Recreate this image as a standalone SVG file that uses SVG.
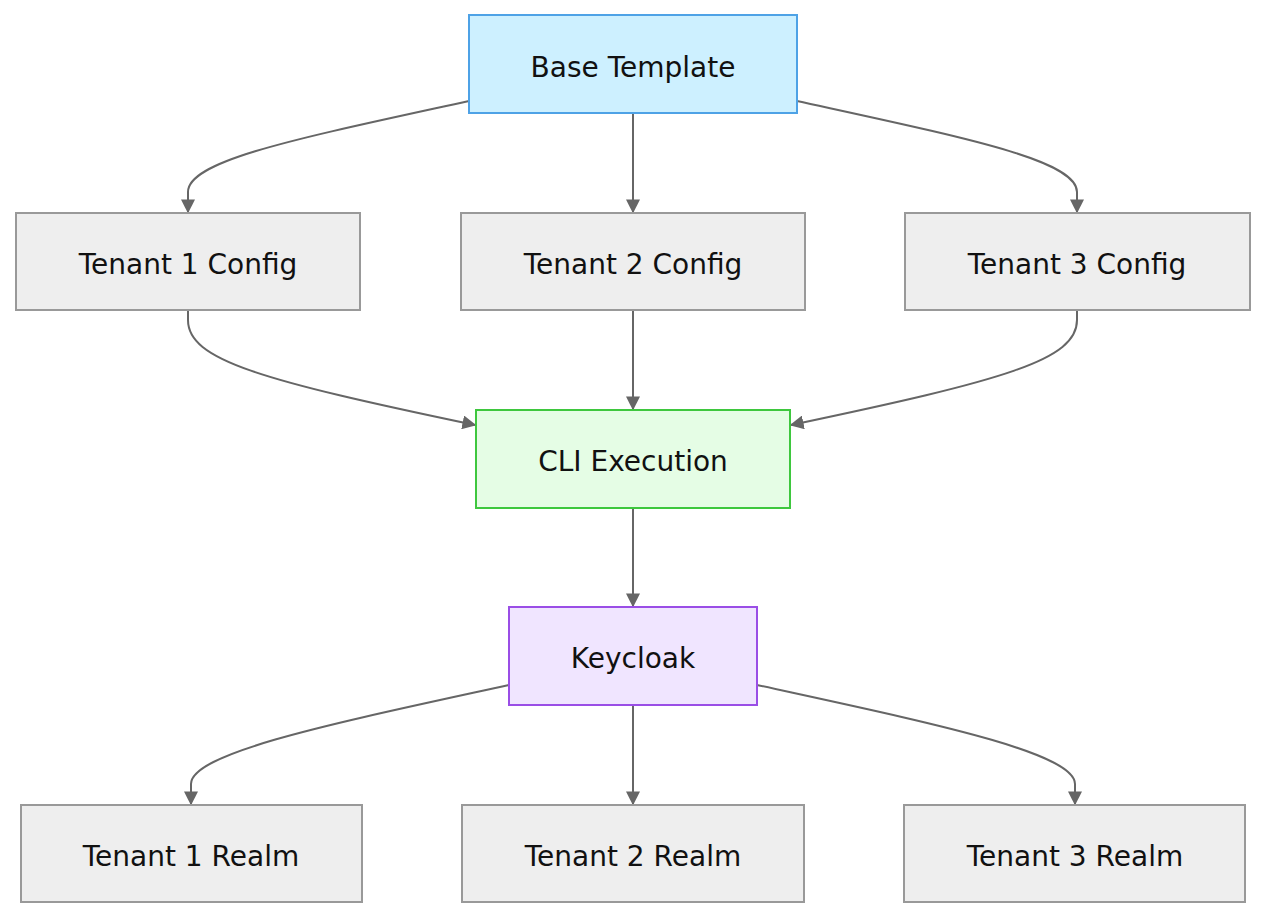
<svg xmlns="http://www.w3.org/2000/svg" width="1267" height="919" viewBox="0 0 1267 919">
<style>
.n{fill:#eeeeee;stroke:#999999;stroke-width:2}
.t{font-family:"DejaVu Sans",sans-serif;font-size:28px;fill:#111;text-anchor:middle;dominant-baseline:central}
.e{fill:none;stroke:#666;stroke-width:2;marker-end:url(#a)}
</style>
<defs><marker id="a" viewBox="0 0 10 10" refX="9" refY="5" markerWidth="14" markerHeight="14" markerUnits="userSpaceOnUse" orient="auto"><path d="M0,0L10,5L0,10z" fill="#666"/></marker></defs>
<rect width="1267" height="919" fill="#fff"/>
<g id="edges">
<path class="e" d="M469,101 C300,138 188,160 188,192 L188,212"/>
<path class="e" d="M633,113 L633,212"/>
<path class="e" d="M797,101 C966,138 1077,160 1077,192 L1077,212"/>
<path class="e" d="M188,310 L188,320 C188,360 260,380 475,425"/>
<path class="e" d="M633,310 L633,409"/>
<path class="e" d="M1077,310 L1077,320 C1077,360 1005,380 791,425"/>
<path class="e" d="M633,508 L633,606"/>
<path class="e" d="M509,685 C340,722 191,752 191,784 L191,804"/>
<path class="e" d="M633,705 L633,804"/>
<path class="e" d="M757,685 C926,722 1075,752 1075,784 L1075,804"/>
</g>
<g id="base"><rect x="469" y="15" width="328" height="98" fill="#cdf0ff" stroke="#4ea2e6" stroke-width="2"/><text class="t" x="633" y="67">Base Template</text></g>
<g id="t1c"><rect class="n" x="16" y="213" width="344" height="97"/><text class="t" x="188" y="264">Tenant 1 Config</text></g>
<g id="t2c"><rect class="n" x="461" y="213" width="344" height="97"/><text class="t" x="633" y="264">Tenant 2 Config</text></g>
<g id="t3c"><rect class="n" x="905" y="213" width="345" height="97"/><text class="t" x="1077" y="264">Tenant 3 Config</text></g>
<g id="cli"><rect x="476" y="410" width="314" height="98" fill="#e5fde5" stroke="#3ec73e" stroke-width="2"/><text class="t" x="633" y="461">CLI Execution</text></g>
<g id="kc"><rect x="509" y="607" width="248" height="98" fill="#f0e5ff" stroke="#9a4ee6" stroke-width="2"/><text class="t" x="633" y="658">Keycloak</text></g>
<g id="t1r"><rect class="n" x="21" y="805" width="341" height="97"/><text class="t" x="191" y="856">Tenant 1 Realm</text></g>
<g id="t2r"><rect class="n" x="462" y="805" width="342" height="97"/><text class="t" x="633" y="856">Tenant 2 Realm</text></g>
<g id="t3r"><rect class="n" x="904" y="805" width="341" height="97"/><text class="t" x="1075" y="856">Tenant 3 Realm</text></g>
</svg>
